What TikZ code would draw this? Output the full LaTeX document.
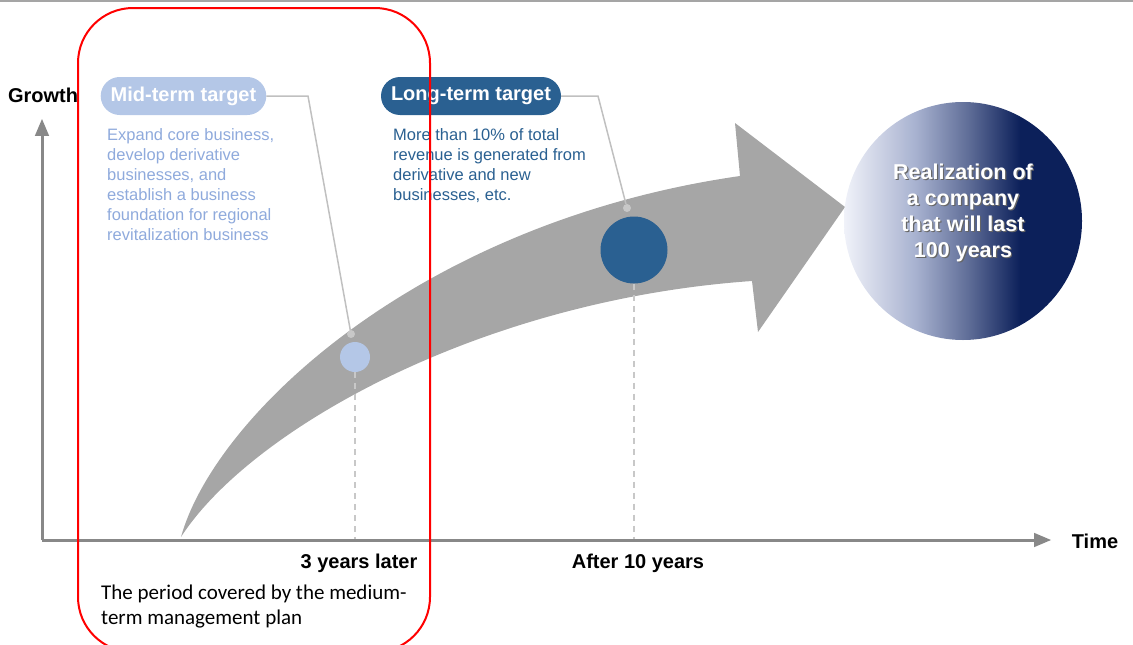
\documentclass[tikz,border=0pt]{standalone}
\usepackage{fontspec}
\setmainfont{Liberation Sans}
\newfontfamily\notefont{Carlito}
\usetikzlibrary{arrows}

\definecolor{topgray}{RGB}{165,165,165}
\definecolor{axisgray}{RGB}{136,136,136}
\definecolor{bandgray}{RGB}{166,166,166}
\definecolor{leadgray}{RGB}{192,192,192}
\definecolor{dashgray}{RGB}{200,200,200}
\definecolor{midblue}{RGB}{180,199,231}
\definecolor{midtext}{RGB}{143,170,220}
\definecolor{longblue}{RGB}{42,96,145}
\definecolor{navy}{RGB}{12,32,90}
\definecolor{paleA}{RGB}{240,242,249}
\definecolor{paleB}{RGB}{168,178,208}
\definecolor{paleC}{RGB}{96,110,152}

% dark side of the goal circle on the right
\pgfdeclarehorizontalshading{farfuture}{100bp}{color(0bp)=(paleA); color(25bp)=(paleA); color(40bp)=(paleB); color(51bp)=(paleC); color(62bp)=(navy); color(100bp)=(navy)}

\tikzset{
 pill/.style={rounded corners=19pt, minimum height=38pt, inner xsep=10pt, text=white, font=\bfseries\fontsize{20}{24}\selectfont},
 axislbl/.style={font=\bfseries\fontsize{20}{24}\selectfont},
 leader/.style={leadgray, line width=1.5pt},
 dot/.style={circle, fill=dashgray, inner sep=0pt, minimum size=8pt},
 drop/.style={dashgray, line width=1.5pt, dash pattern=on 6pt off 5pt},
}

\begin{document}
\begin{tikzpicture} [x=1pt, y=-1pt]
\useasboundingbox (0,0) rectangle (1133,645);
\draw[topgray, line width=2pt] (0,1)--(1133,1);
% growth band
\fill[bandgray] (181,537) .. controls (215,415) and (420,222) .. (740,176) -- (735,123) -- (845,207) -- (758,332) -- (752,281) .. controls (480,300) and (250,430) .. (181,537);
% milestones on the band
\node[circle, fill=midblue, inner sep=0pt, minimum size=30pt] (mid) at (355,357) {};
\node[circle, fill=longblue, inner sep=0pt, minimum size=67pt] (long) at (634,250) {};
\node[dot] (middot) at (351,334) {};
\node[dot] (longdot) at (627,208) {};
% axes
\coordinate (O) at (42,540);
\coordinate (midx) at (355,540);
\coordinate (longx) at (634,540);
\draw[drop] (mid.south)--(midx);
\draw[drop] (long.south)--(longx);
\draw[axisgray, line width=3pt, ->, >=triangle 45] (O)--(42,119);
\draw[axisgray, line width=3pt, ->, >=triangle 45] (O)--(1051,540);
\node[axislbl] (growth) at (43,95) {Growth};
\node[axislbl] (time) at (1095,541) {Time};
\node[axislbl] (midyr) at (359,563) {3 years later};
\node[axislbl] (longyr) at (638,563) {After 10 years};
% targets
\node[pill, fill=midblue] (midtgt) at (183.5,96) {Mid-term target};
\node[pill, fill=longblue] (longtgt) at (471,96) {Long-term target};
\draw[leader] (midtgt.east)--(308,96)--(middot);
\draw[leader] (longtgt.east)--(598,96)--(longdot);
\node[anchor=north west, inner sep=0pt, align=left, text=midtext, font=\fontsize{16.5}{20}\selectfont] (midnote) at (107,128) {Expand core business,\\develop derivative\\businesses, and\\establish a business\\foundation for regional\\revitalization business};
\node[anchor=north west, inner sep=0pt, align=left, text=longblue, font=\fontsize{16.5}{20}\selectfont] (longnote) at (393,128) {More than 10\% of total\\revenue is generated from\\derivative and new\\businesses, etc.};
% the goal
\node[circle, minimum size=238pt, shade, shading=farfuture] (goal) at (963,221) {};
\node[align=center, text=black!60, font=\bfseries\fontsize{21.5}{26}\selectfont] at ([shift={(1.2,-6.8)}]goal) {Realization of\\a company\\that will last\\100 years};
\node[align=center, text=white, font=\bfseries\fontsize{21.5}{26}\selectfont] (goaltxt) at ([yshift=8pt]goal) {Realization of\\a company\\that will last\\100 years};
% plan period
\draw[red, line width=2pt, rounded corners=55pt] (78,8) rectangle (430,652);
\node[anchor=north west, inner sep=0pt, align=left, font=\notefont\fontsize{21}{25}\selectfont] (plan) at (101,585) {The period covered by the medium-\\term management plan};
\end{tikzpicture}
\end{document}
